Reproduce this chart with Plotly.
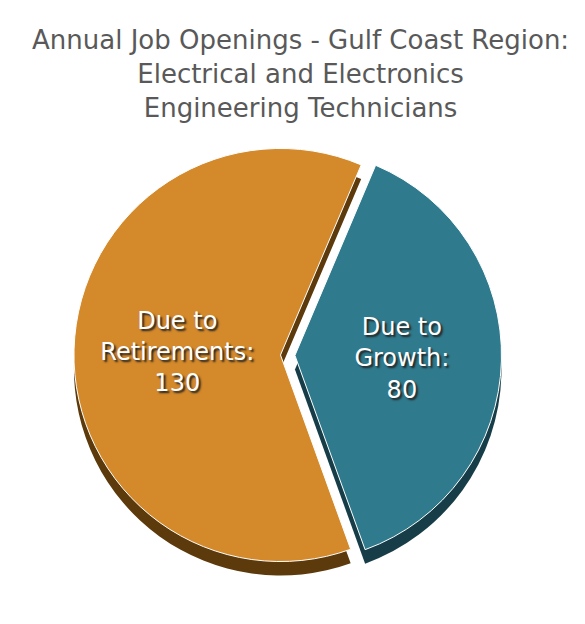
import plotly.graph_objects as go

# job openings per year, Gulf Coast region
categories = ['Growth', 'Retirements']
openings = [80, 130]
slice_colors = ['#2F7A8D', '#D4892A']
edge_colors = ['#173E48', '#5C3A0C']

title_text = ('Annual Job Openings - Gulf Coast Region:<br>'
              'Electrical and Electronics<br>Engineering Technicians')

W, H = 585, 624
left, right = 28, 68
top, bottom = 126, 56
depth = 14  # px of the fake 3d edge

def dom(shift):
    y0 = (bottom - shift) / H
    y1 = (H - top - shift) / H
    return dict(x=[left / W, 1 - right / W], y=[y0, y1])

fig = go.Figure()

# darker copy underneath, pushed down a bit -> "thickness"
fig.add_trace(go.Pie(
    labels=categories, values=openings, sort=False, direction='clockwise',
    rotation=23, pull=[0.07, 0], domain=dom(depth),
    marker=dict(colors=edge_colors, line=dict(width=0)),
    textinfo='none', hoverinfo='skip', showlegend=False,
))

fig.add_trace(go.Pie(
    labels=categories, values=openings, sort=False, direction='clockwise',
    rotation=23, pull=[0.07, 0], domain=dom(0),
    marker=dict(colors=slice_colors, line=dict(color='white', width=1)),
    texttemplate='Due to<br>%{label}:<br>%{value}',
    textposition='inside', insidetextorientation='horizontal',
    textfont=dict(family='DejaVu Sans', size=24, color='white',
                  shadow='2px 2px 2px #222'),
    showlegend=False,
))

fig.add_annotation(
    text=title_text, x=0.5, xref='paper', xanchor='center',
    y=1 - 66 / H, yref='paper', yanchor='middle', showarrow=False,
    font=dict(family='DejaVu Sans', size=26, color='#595959'),
)

fig.update_layout(
    width=W, height=H,
    margin=dict(l=0, r=0, t=0, b=0),
    paper_bgcolor='white', plot_bgcolor='white',
)

fig.write_html('out.html')
